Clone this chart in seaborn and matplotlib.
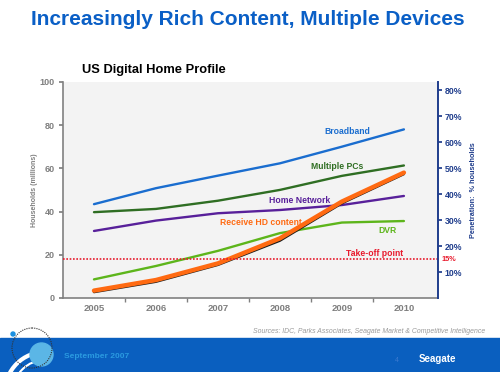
import numpy as np
import pandas as pd
import seaborn as sns
import matplotlib.pyplot as plt
from matplotlib.patches import Circle, Arc, Rectangle

years = [2005, 2006, 2007, 2008, 2009, 2010]
broadband = [43.4, 50.8, 56.6, 62.3, 70.0, 78.0]
multiple_pcs = [39.7, 41.2, 45.0, 50.0, 56.5, 61.3]
home_network = [31.0, 35.8, 39.2, 40.7, 43.0, 47.2]
dvr = [8.6, 14.8, 21.8, 30.0, 34.9, 35.6]
receive_hd = [3.4, 8.3, 16.0, 27.6, 44.6, 58.0]
hd_shadow = [2.7, 7.5, 15.3, 26.5, 43.8, 57.3]
left_ticks = [0, 20, 40, 60, 80, 100]
right_ticks = [10, 20, 30, 40, 50, 60, 70, 80]
takeoff = 15

sns.set_theme(style="white")
plt.rcParams['font.family'] = ['Liberation Sans', 'DejaVu Sans']

fig = plt.figure(figsize=(5, 3.72), dpi=100)
fig.patch.set_facecolor('white')

ax = fig.add_axes([0.126, 0.199, 0.75, 0.581])
ax.set_facecolor('#f3f3f3')

df = pd.DataFrame({'year': years, 'broadband': broadband, 'pcs': multiple_pcs,
                   'network': home_network, 'dvr': dvr, 'hd': receive_hd, 'shadow': hd_shadow})

sns.lineplot(data=df, x='year', y='broadband', ax=ax, color='#1a6dcf', lw=1.7)
sns.lineplot(data=df, x='year', y='pcs', ax=ax, color='#2f6e23', lw=1.7)
sns.lineplot(data=df, x='year', y='network', ax=ax, color='#58209a', lw=1.7)
sns.lineplot(data=df, x='year', y='dvr', ax=ax, color='#5db51b', lw=1.7)
sns.lineplot(data=df, x='year', y='shadow', ax=ax, color='#1a1a1a', lw=1.7)
sns.lineplot(data=df, x='year', y='hd', ax=ax, color='#ff6a12', lw=3.2)

ax.set_xlim(2004.5, 2010.55)
ax.set_ylim(0, 100)
ax.set_xticks(years)
ax.set_xticklabels([str(y) for y in years], color='#7f7f7f', fontsize=6.8, fontweight='bold')
ax.set_xticks([y + 0.5 for y in years[:-1]], minor=True)
ax.tick_params(axis='x', which='major', length=0, pad=4)
ax.tick_params(axis='x', which='minor', length=3, color='#808080', direction='out', bottom=True)
ax.set_yticks(left_ticks)
ax.set_yticklabels([str(t) for t in left_ticks], color='#7f7f7f', fontsize=6.5, fontweight='bold')
ax.tick_params(axis='y', length=3, color='#808080', direction='out', left=True, pad=3)
ax.set_xlabel('')
ax.set_ylabel('Households (millions)', color='#7f7f7f', fontsize=5, fontweight='bold', labelpad=1)
for s in ['top', 'right']:
    ax.spines[s].set_visible(False)
for s in ['left', 'bottom']:
    ax.spines[s].set_color('#808080')
    ax.spines[s].set_linewidth(1.2)

ax2 = ax.twinx()
ax2.set_ylim(0, 100 / 1.2)
ax2.set_yticks(right_ticks)
ax2.set_yticklabels([f'{t}%' for t in right_ticks], color='#1f3d8c', fontsize=6.3, fontweight='bold')
ax2.tick_params(axis='y', length=3, color='#1f3d8c', direction='out', right=True, pad=2)
ax2.axhline(takeoff, color='#e8192c', lw=1.2, ls=(0, (1, 1)))
ax2.set_ylabel('Penetration:  % households', color='#1f3d8c', fontsize=5.2, fontweight='bold', labelpad=5)
for s in ['top', 'left', 'bottom']:
    ax2.spines[s].set_visible(False)
ax2.spines['right'].set_color('#1f3d8c')
ax2.spines['right'].set_linewidth(1.4)
ax2.text(2010.6, takeoff, '15%', color='#e8192c', fontsize=5.3, fontweight='bold', va='center', ha='left')

lab = dict(fontsize=6.2, fontweight='bold', ha='center', va='center')
ax.text(2009.08, 76.9, 'Broadband', color='#1a6dcf', **lab)
ax.text(2008.92, 60.6, 'Multiple PCs', color='#2f6e23', **lab)
ax.text(2008.32, 44.9, 'Home Network', color='#58209a', **lab)
ax.text(2007.69, 34.7, 'Receive HD content', color='#ff6a12', **lab)
ax.text(2009.73, 31.0, 'DVR', color='#5db51b', **lab)
ax.text(2009.52, 20.8, 'Take-off point', color='#e8192c', **lab)

fig.text(0.496, 0.948, 'Increasingly Rich Content, Multiple Devices', color='#0a5fc6',
         fontsize=15, fontweight='bold', ha='center', va='center')
fig.text(0.164, 0.812, 'US Digital Home Profile', color='black', fontsize=9.3,
         fontweight='bold', ha='left', va='center')
fig.text(0.97, 0.11, 'Sources: IDC, Parks Associates, Seagate Market & Competitive Intelligence',
         color='#9a9a9a', fontsize=4.95, style='italic', ha='right', va='center')

# footer band
fax = fig.add_axes([0, 0, 1, 1], zorder=-1)
fax.set_xlim(0, 500)
fax.set_ylim(372, 0)
fax.axis('off')
fax.add_patch(Rectangle((0, 338), 500, 34, color='#0a5fbf'))
fax.add_patch(Arc((45, 392), 80, 80, theta1=180, theta2=270, color='white', lw=3))
fax.add_patch(Arc((45, 392), 64, 64, theta1=180, theta2=270, color='white', lw=1.5))
fax.add_patch(Circle((41.5, 354.5), 11.5, color='#5bb6e6'))
fax.add_patch(Circle((32, 348), 20, fill=False, ls=(0, (1, 1)), color='#333333', lw=0.8))
fax.add_patch(Circle((13, 334), 2, color='#1a8fe0'))
fax.text(64, 356, 'September 2007', color='#2a9ae0', fontsize=6, fontweight='bold', va='center')
fax.text(395, 361, '4', color='#3a7ad0', fontsize=5, va='center')
fax.text(437, 359, 'Seagate', color='white', fontsize=7, fontweight='bold', va='center', ha='center')

fig.savefig('out.png', dpi=100)
